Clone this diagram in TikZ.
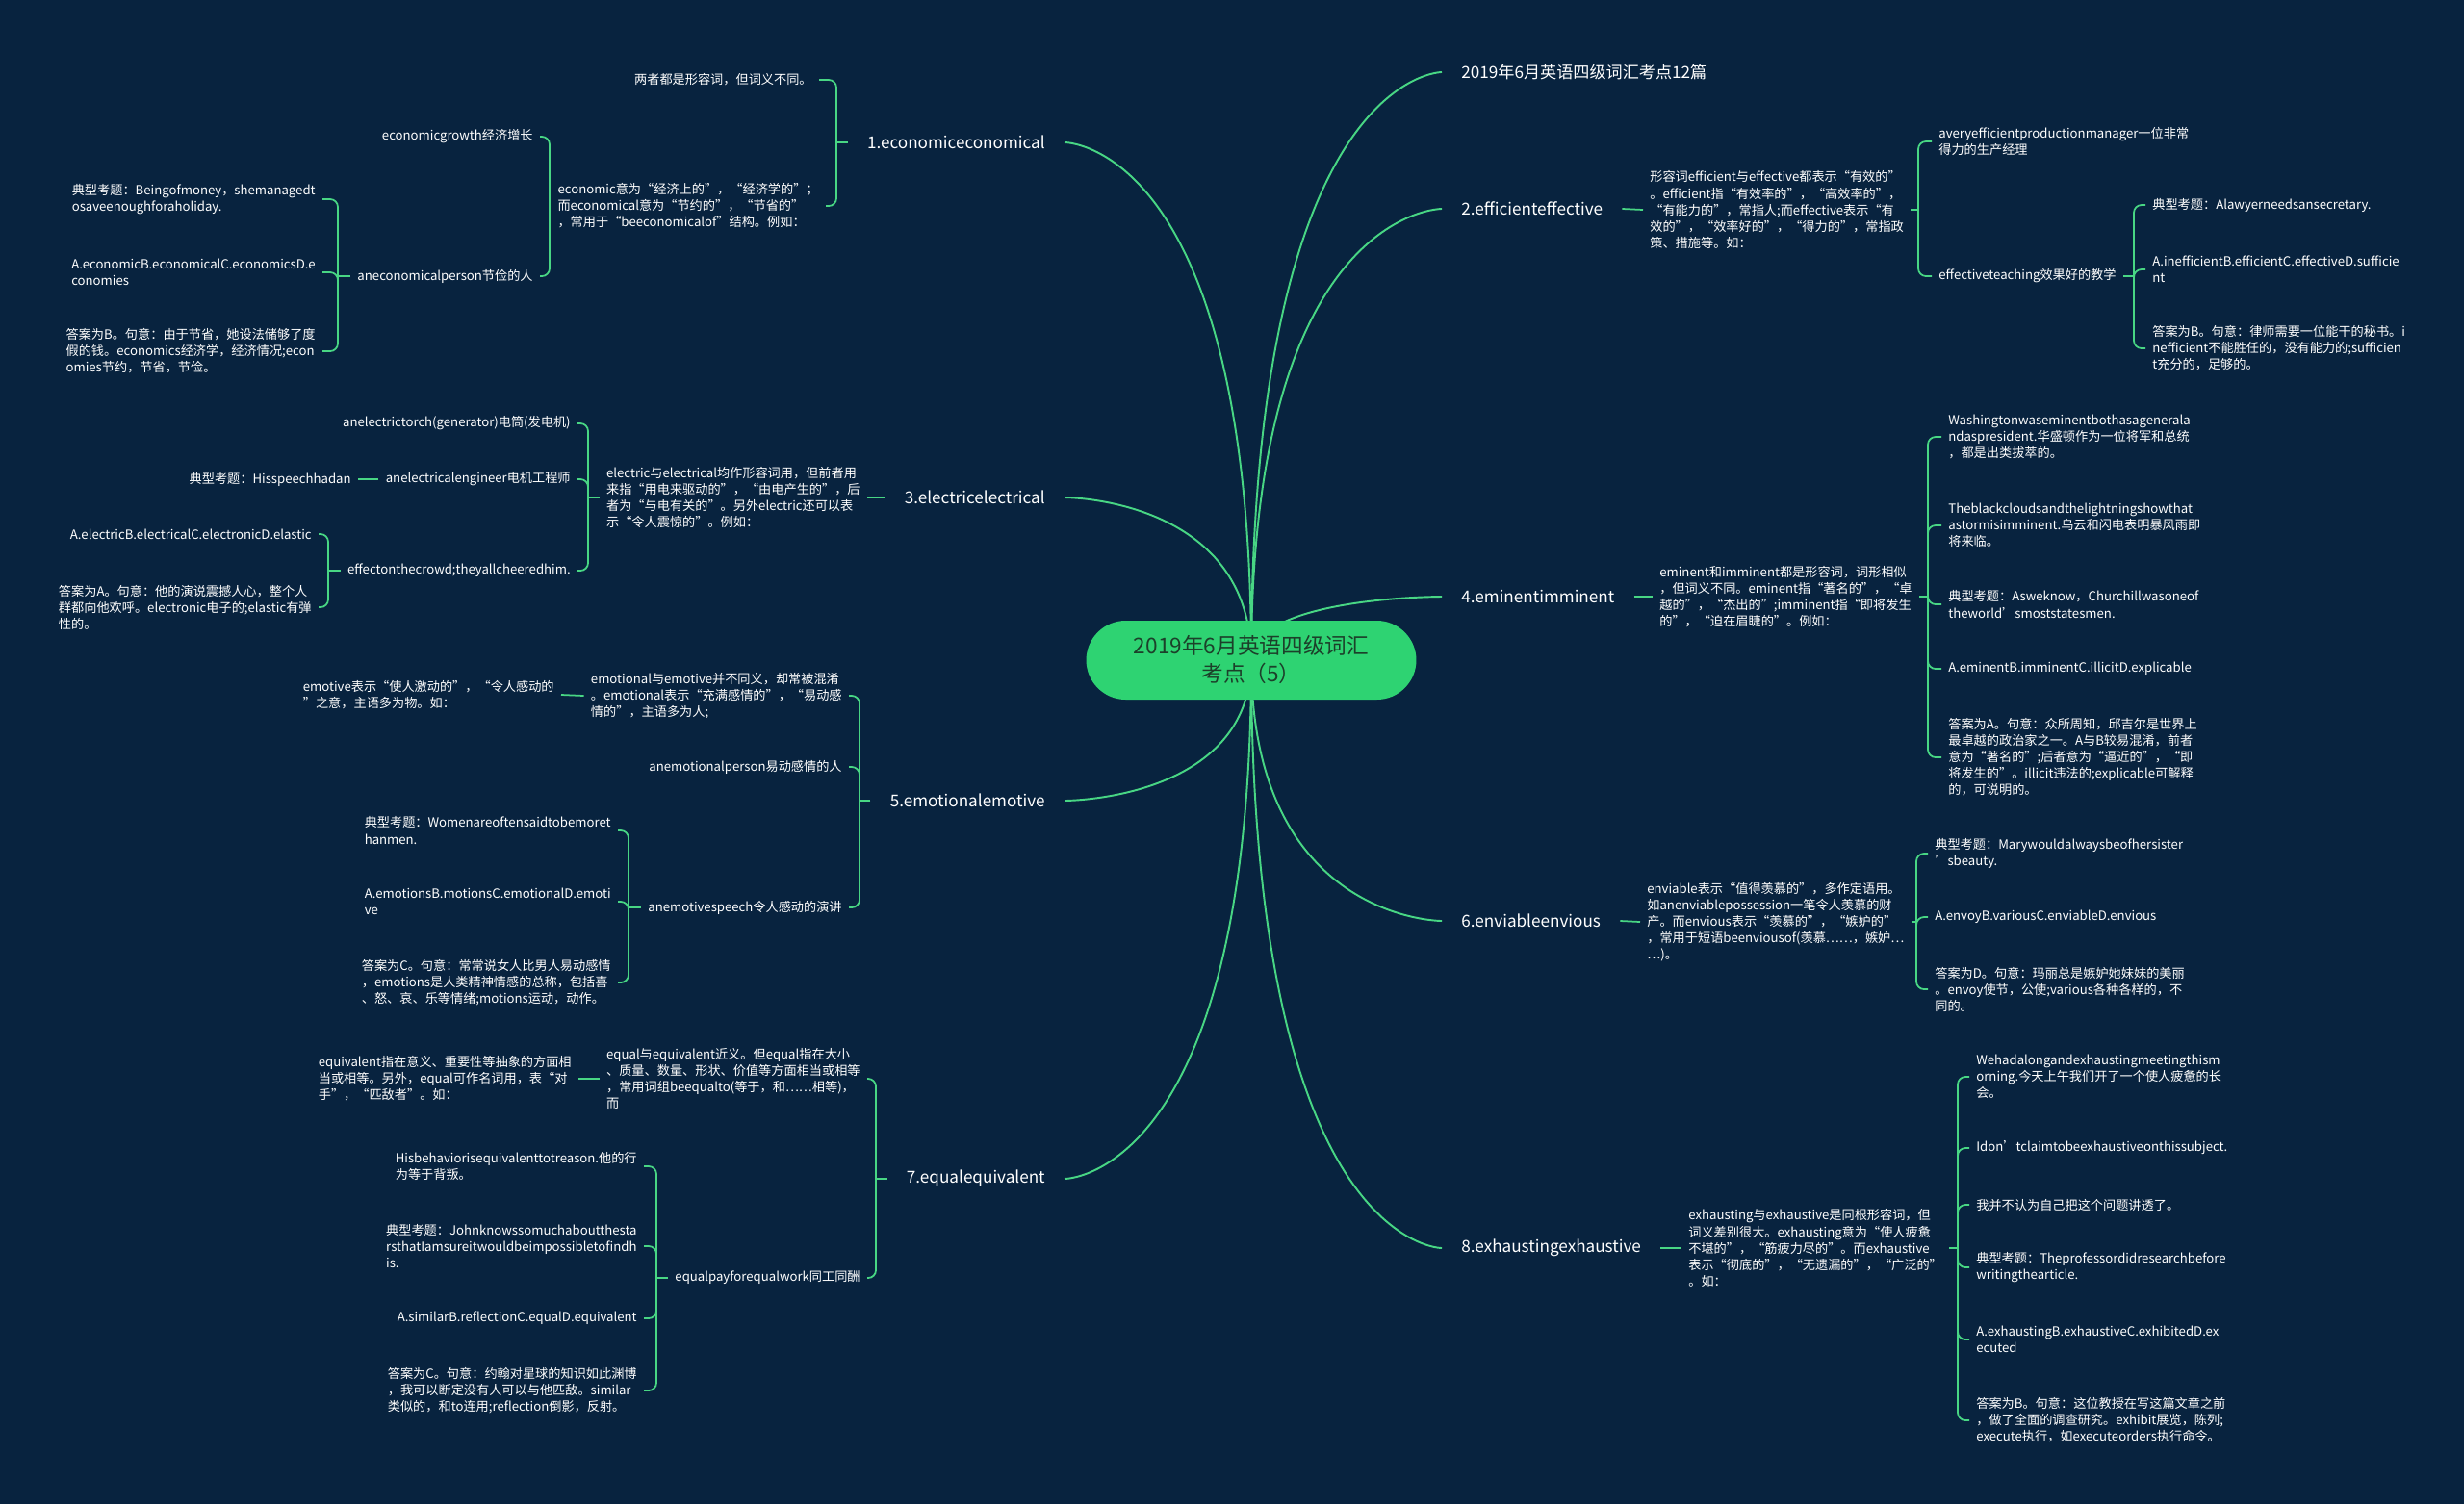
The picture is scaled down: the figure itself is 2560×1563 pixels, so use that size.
\documentclass[tikz,border=0pt]{standalone}
\usepackage{fontspec}
\setmainfont{Noto Sans CJK SC}
\usepackage{tikz}

\definecolor{bgnavy}{RGB}{8,35,63}
\definecolor{linkgreen}{RGB}{72,214,132}
\definecolor{pillgreen}{RGB}{46,211,114}
\definecolor{pilltext}{RGB}{28,64,42}

\begin{document}
\begin{tikzpicture}[x=0.02cm, y=-0.02cm,
  trunkline/.style={draw=linkgreen, line width=1.1pt},
  twigline/.style={draw=linkgreen, line width=1pt, rounded corners=0.16cm},
  topicnode/.style={text=white, font=\fontsize{9.75}{12}\selectfont, inner xsep=0.4cm, inner ysep=0.1cm},
  leafnode/.style={text=white, font=\fontsize{7.5}{9.7}\selectfont, align=left, inner xsep=0.14cm, inner ysep=0.04cm},
  centralnode/.style={fill=pillgreen, text=pilltext, rounded corners=0.82cm, minimum width=6.86cm,
    minimum height=1.64cm, align=center, font=\fontsize{12.9}{16.5}\selectfont}]

  % background
  \fill[bgnavy] (0,0) rectangle (2560,1563);
  \useasboundingbox (0,0) rectangle (2560,1563);

  % main topics, right side
  \node[topicnode, anchor=west] (t0) at (1498,75) {2019年6月英语四级词汇考点12篇};
  \node[topicnode, anchor=west] (b2) at (1498,217) {2.efficienteffective};
  \node[topicnode, anchor=west] (b4) at (1498,620) {4.eminentimminent};
  \node[topicnode, anchor=west] (b6) at (1498,957) {6.enviableenvious};
  \node[topicnode, anchor=west] (b8) at (1498,1297) {8.exhaustingexhaustive};
  % main topics, left side
  \node[topicnode, anchor=east] (b1) at (1106,148) {1.economiceconomical};
  \node[topicnode, anchor=east] (b3) at (1106,517) {3.electricelectrical};
  \node[topicnode, anchor=east] (b5) at (1106,832) {5.emotionalemotive};
  \node[topicnode, anchor=east] (b7) at (1106,1225) {7.equalequivalent};

  % curves out of the centre
  \coordinate (c0) at (1300,686);
  \foreach \b/\y in {t0/75,b2/217,b4/620,b6/957,b8/1297}
    \draw[trunkline] (c0) .. controls (1300,\y) and (1498,\y) .. (\b.west);
  \foreach \b/\y in {b1/148,b3/517,b5/832,b7/1225}
    \draw[trunkline] (c0) .. controls (1300,\y) and (1106,\y) .. (\b.east);

  % 1. economic / economical
  \node[leafnode, anchor=east] (c1a) at (851,83) {两者都是形容词，但词义不同。};
  \node[leafnode, anchor=east] (c1b) at (858,214) {economic意为“经济上的”，“经济学的”；\\而economical意为“节约的”，“节省的”\\，常用于“beeconomicalof”结构。例如：};
  \coordinate (h1) at (869,148);
  \draw[twigline] (b1.west) -- (h1);
  \foreach \c in {c1a,c1b} \draw[twigline] (h1) |- (\c.east);

  \node[leafnode, anchor=east] (e1a) at (561,142) {economicgrowth经济增长};
  \node[leafnode, anchor=east] (e1b) at (561,287) {aneconomicalperson节俭的人};
  \coordinate (h1b) at (571,214);
  \draw[twigline] (c1b.west) -- (h1b);
  \foreach \c in {e1a,e1b} \draw[twigline] (h1b) |- (\c.east);

  \node[leafnode, anchor=east] (f1a) at (335,207) {典型考题：Beingofmoney，shemanagedt\\osaveenoughforaholiday.};
  \node[leafnode, anchor=east] (f1b) at (335,283) {A.economicB.economicalC.economicsD.e\\conomies};
  \node[leafnode, anchor=east] (f1c) at (335,365) {答案为B。句意：由于节省，她设法储够了度\\假的钱。economics经济学，经济情况;econ\\omies节约，节省，节俭。};
  \coordinate (h1c) at (351,287);
  \draw[twigline] (e1b.west) -- (h1c);
  \foreach \c in {f1a,f1b,f1c} \draw[twigline] (h1c) |- (\c.east);

  % 3. electric / electrical
  \node[leafnode, anchor=east] (d3) at (901,517) {electric与electrical均作形容词用，但前者用\\来指“用电来驱动的”，“由电产生的”，后\\者为“与电有关的”。另外electric还可以表\\示“令人震惊的”。例如：};
  \draw[twigline] (b3.west) -- (d3.east);
  \node[leafnode, anchor=east] (e3a) at (600,440) {anelectrictorch(generator)电筒(发电机)};
  \node[leafnode, anchor=east] (e3b) at (600,498) {anelectricalengineer电机工程师};
  \node[leafnode, anchor=east] (e3c) at (600,593) {effectonthecrowd;theyallcheeredhim.};
  \coordinate (h3) at (611,517);
  \draw[twigline] (d3.west) -- (h3);
  \foreach \c in {e3a,e3b,e3c} \draw[twigline] (h3) |- (\c.east);

  \node[leafnode, anchor=east] (f3) at (372,498) {典型考题：Hisspeechhadan};
  \draw[twigline] (e3b.west) -- (f3.east);

  \node[leafnode, anchor=east] (f3a) at (331,555) {A.electricB.electricalC.electronicD.elastic};
  \node[leafnode, anchor=east] (f3b) at (331,631) {答案为A。句意：他的演说震撼人心，整个人\\群都向他欢呼。electronic电子的;elastic有弹\\性的。};
  \coordinate (h3c) at (341,593);
  \draw[twigline] (e3c.west) -- (h3c);
  \foreach \c in {f3a,f3b} \draw[twigline] (h3c) |- (\c.east);

  % 5. emotional / emotive
  \node[leafnode, anchor=east] (d5) at (882,723) {emotional与emotive并不同义，却常被混淆\\。emotional表示“充满感情的”，“易动感\\情的”，主语多为人;};
  \node[leafnode, anchor=east] (e5a) at (882,797) {anemotionalperson易动感情的人};
  \node[leafnode, anchor=east] (e5b) at (882,943) {anemotivespeech令人感动的演讲};
  \coordinate (h5) at (893,832);
  \draw[twigline] (b5.west) -- (h5);
  \foreach \c in {d5,e5a,e5b} \draw[twigline] (h5) |- (\c.east);

  \node[leafnode, anchor=east] (f5) at (583,722) {emotive表示“使人激动的”，“令人感动的\\”之意，主语多为物。如：};
  \draw[twigline] (d5.west) -- (f5.east);

  \node[leafnode, anchor=east] (g5a) at (642,863) {典型考题：Womenareoftensaidtobemoret\\hanmen.};
  \node[leafnode, anchor=east] (g5b) at (642,937) {A.emotionsB.motionsC.emotionalD.emoti\\ve};
  \node[leafnode, anchor=east] (g5c) at (642,1021) {答案为C。句意：常常说女人比男人易动感情\\，emotions是人类精神情感的总称，包括喜\\、怒、哀、乐等情绪;motions运动，动作。};
  \coordinate (h5b) at (653,943);
  \draw[twigline] (e5b.west) -- (h5b);
  \foreach \c in {g5a,g5b,g5c} \draw[twigline] (h5b) |- (\c.east);

  % 7. equal / equivalent
  \node[leafnode, anchor=east] (d7) at (901,1121) {equal与equivalent近义。但equal指在大小\\、质量、数量、形状、价值等方面相当或相等\\，常用词组beequalto(等于，和……相等)，\\而};
  \node[leafnode, anchor=east] (e7) at (901,1328) {equalpayforequalwork同工同酬};
  \coordinate (h7) at (910,1225);
  \draw[twigline] (b7.west) -- (h7);
  \foreach \c in {d7,e7} \draw[twigline] (h7) |- (\c.east);

  \node[leafnode, anchor=east] (f7) at (601,1121) {equivalent指在意义、重要性等抽象的方面相\\当或相等。另外，equal可作名词用，表“对\\手”，“匹敌者”。如：};
  \draw[twigline] (d7.west) -- (f7.east);

  \node[leafnode, anchor=east] (g7a) at (669,1212) {Hisbehaviorisequivalenttotreason.他的行\\为等于背叛。};
  \node[leafnode, anchor=east] (g7b) at (669,1295) {典型考题：Johnknowssomuchaboutthesta\\rsthatIamsureitwouldbeimpossibletofindh\\is.};
  \node[leafnode, anchor=east] (g7c) at (669,1370) {A.similarB.reflectionC.equalD.equivalent};
  \node[leafnode, anchor=east] (g7d) at (669,1445) {答案为C。句意：约翰对星球的知识如此渊博\\，我可以断定没有人可以与他匹敌。similar\\类似的，和to连用;reflection倒影，反射。};
  \coordinate (h7b) at (682,1328);
  \draw[twigline] (e7.west) -- (h7b);
  \foreach \c in {g7a,g7b,g7c,g7d} \draw[twigline] (h7b) |- (\c.east);

  % 2. efficient / effective
  \node[leafnode, anchor=west] (d2) at (1707,218) {形容词efficient与effective都表示“有效的”\\。efficient指“有效率的”，“高效率的”，\\“有能力的”，常指人;而effective表示“有\\效的”，“效率好的”，“得力的”，常指政\\策、措施等。如：};
  \draw[twigline] (b2.east) -- (d2.west);
  \node[leafnode, anchor=west] (c2a) at (2007,147) {averyefficientproductionmanager一位非常\\得力的生产经理};
  \node[leafnode, anchor=west] (c2b) at (2007,287) {effectiveteaching效果好的教学};
  \coordinate (h2) at (1993,218);
  \draw[twigline] (d2.east) -- (h2);
  \foreach \c in {c2a,c2b} \draw[twigline] (h2) |- (\c.west);

  \node[leafnode, anchor=west] (g2a) at (2229,213) {典型考题：Alawyerneedsansecretary.};
  \node[leafnode, anchor=west] (g2b) at (2229,280) {A.inefficientB.efficientC.effectiveD.sufficie\\nt};
  \node[leafnode, anchor=west] (g2c) at (2229,362) {答案为B。句意：律师需要一位能干的秘书。i\\nefficient不能胜任的，没有能力的;sufficien\\t充分的，足够的。};
  \coordinate (h2b) at (2217,287);
  \draw[twigline] (c2b.east) -- (h2b);
  \foreach \c in {g2a,g2b,g2c} \draw[twigline] (h2b) |- (\c.west);

  % 4. eminent / imminent
  \node[leafnode, anchor=west] (d4) at (1717,620) {eminent和imminent都是形容词，词形相似\\，但词义不同。eminent指“著名的”，“卓\\越的”，“杰出的”;imminent指“即将发生\\的”，“迫在眉睫的”。例如：};
  \draw[twigline] (b4.east) -- (d4.west);
  \node[leafnode, anchor=west] (c4a) at (2017,454) {Washingtonwaseminentbothasagenerala\\ndaspresident.华盛顿作为一位将军和总统\\，都是出类拔萃的。};
  \node[leafnode, anchor=west] (c4b) at (2017,546) {Theblackcloudsandthelightningshowthat\\astormisimminent.乌云和闪电表明暴风雨即\\将来临。};
  \node[leafnode, anchor=west] (c4c) at (2017,628) {典型考题：Asweknow，Churchillwasoneof\\theworld’smoststatesmen.};
  \node[leafnode, anchor=west] (c4d) at (2017,695) {A.eminentB.imminentC.illicitD.explicable};
  \node[leafnode, anchor=west] (c4e) at (2017,787) {答案为A。句意：众所周知，邱吉尔是世界上\\最卓越的政治家之一。A与B较易混淆，前者\\意为“著名的”;后者意为“逼近的”，“即\\将发生的”。illicit违法的;explicable可解释\\的，可说明的。};
  \coordinate (h4) at (2003,620);
  \draw[twigline] (d4.east) -- (h4);
  \foreach \c in {c4a,c4b,c4c,c4d,c4e} \draw[twigline] (h4) |- (\c.west);

  % 6. enviable / envious
  \node[leafnode, anchor=west] (d6) at (1704,958) {enviable表示“值得羡慕的”，多作定语用。\\如anenviablepossession一笔令人羡慕的财\\产。而envious表示“羡慕的”，“嫉妒的”\\，常用于短语beenviousof(羡慕……，嫉妒…\\…)。};
  \draw[twigline] (b6.east) -- (d6.west);
  \node[leafnode, anchor=west] (c6a) at (2003,887) {典型考题：Marywouldalwaysbeofhersister\\’sbeauty.};
  \node[leafnode, anchor=west] (c6b) at (2003,953) {A.envoyB.variousC.enviableD.envious};
  \node[leafnode, anchor=west] (c6c) at (2003,1028) {答案为D。句意：玛丽总是嫉妒她妹妹的美丽\\。envoy使节，公使;various各种各样的，不\\同的。};
  \coordinate (h6) at (1991,958);
  \draw[twigline] (d6.east) -- (h6);
  \foreach \c in {c6a,c6b,c6c} \draw[twigline] (h6) |- (\c.west);

  % 8. exhausting / exhaustive
  \node[leafnode, anchor=west] (d8) at (1747,1297) {exhausting与exhaustive是同根形容词，但\\词义差别很大。exhausting意为“使人疲惫\\不堪的”，“筋疲力尽的”。而exhaustive\\表示“彻底的”，“无遗漏的”，“广泛的”\\。如：};
  \draw[twigline] (b8.east) -- (d8.west);
  \node[leafnode, anchor=west] (c8a) at (2046,1119) {Wehadalongandexhaustingmeetingthism\\orning.今天上午我们开了一个使人疲惫的长\\会。};
  \node[leafnode, anchor=west] (c8b) at (2046,1193) {Idon’tclaimtobeexhaustiveonthissubject.};
  \node[leafnode, anchor=west] (c8c) at (2046,1252) {我并不认为自己把这个问题讲透了。};
  \node[leafnode, anchor=west] (c8d) at (2046,1317) {典型考题：Theprofessordidresearchbefore\\writingthearticle.};
  \node[leafnode, anchor=west] (c8e) at (2046,1392) {A.exhaustingB.exhaustiveC.exhibitedD.ex\\ecuted};
  \node[leafnode, anchor=west] (c8f) at (2046,1476) {答案为B。句意：这位教授在写这篇文章之前\\，做了全面的调查研究。exhibit展览，陈列;\\execute执行，如executeorders执行命令。};
  \coordinate (h8) at (2034,1297);
  \draw[twigline] (d8.east) -- (h8);
  \foreach \c in {c8a,c8b,c8c,c8d,c8e,c8f} \draw[twigline] (h8) |- (\c.west);

  % centre topic on top of the curves
  \node[centralnode] (root) at (c0) {2019年6月英语四级词汇\\考点（5）};

\end{tikzpicture}
\end{document}
